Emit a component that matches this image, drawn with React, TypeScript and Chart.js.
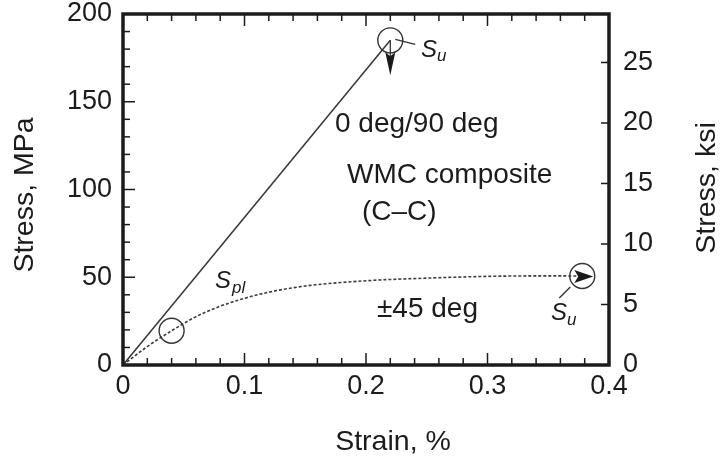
import React, { useEffect, useRef } from "react";
import { Chart, registerables } from "chart.js";

Chart.register(...registerables);

// ---- data ----
const strain090 = [0, 0.22];
const stress090 = [0, 185];
const strain45 = [0, 0.02, 0.04, 0.06, 0.08, 0.1, 0.12, 0.15, 0.2, 0.25, 0.3, 0.35, 0.378];
const stress45 = [0, 10.5, 19.5, 27.5, 33.5, 38, 41.5, 45, 48, 49.5, 50.5, 50.8, 50.7];
const markerStrain = [0.04, 0.22, 0.378];
const markerStress = [19.5, 185, 50.7];

// ---- ticks ----
const xTicks = [0, 0.1, 0.2, 0.3, 0.4];
const xMinorTicks = [0.02, 0.04, 0.06, 0.08, 0.12, 0.14, 0.16, 0.18, 0.22, 0.24, 0.26, 0.28, 0.32, 0.34, 0.36, 0.38];
const yTicks = [0, 50, 100, 150, 200];
const yMinorTicks = [10, 20, 30, 40, 60, 70, 80, 90, 110, 120, 130, 140, 160, 170, 180, 190];
const ksiTicks = [0, 5, 10, 15, 20, 25];
const MPA_PER_KSI = 6.895;

const INK = "#1d1a1b";
const FONT = "'Liberation Sans', Arial, Helvetica, sans-serif";

const zeroPad = (s: any) => {
  s.paddingTop = 0;
  s.paddingBottom = 0;
  s.paddingLeft = 0;
  s.paddingRight = 0;
};

const decor = {
  id: "decor",
  afterDatasetsDraw(chart: any) {
    const { ctx, chartArea: a, scales } = chart;
    const x = scales.x, y = scales.y, y2 = scales.y2;
    ctx.save();
    ctx.strokeStyle = INK;
    ctx.fillStyle = INK;
    ctx.lineWidth = 1.5;
    ctx.lineCap = "butt";
    const seg = (x1: number, y1: number, x2: number, y2_: number) => {
      ctx.beginPath();
      ctx.moveTo(x1, y1);
      ctx.lineTo(x2, y2_);
      ctx.stroke();
    };
    // x ticks (bottom + top), inward
    xTicks.forEach((v) => {
      const px = x.getPixelForValue(v);
      seg(px, a.bottom, px, a.bottom - 12);
      seg(px, a.top, px, a.top + 12);
    });
    xMinorTicks.forEach((v) => {
      const px = x.getPixelForValue(v);
      seg(px, a.bottom, px, a.bottom - 7);
      seg(px, a.top, px, a.top + 7);
    });
    yTicks.forEach((v) => {
      const py = y.getPixelForValue(v);
      seg(a.left, py, a.left + 12, py);
    });
    yMinorTicks.forEach((v) => {
      const py = y.getPixelForValue(v);
      seg(a.left, py, a.left + 7, py);
    });
    ksiTicks.forEach((v) => {
      const py = y2.getPixelForValue(v);
      seg(a.right, py, a.right - 8, py);
    });
    // frame
    ctx.lineWidth = 3.5;
    ctx.strokeRect(a.left, a.top, a.right - a.left, a.bottom - a.top);

    // annotations at markers
    const top = { x: x.getPixelForValue(markerStrain[1]), y: y.getPixelForValue(markerStress[1]) };
    const right = { x: x.getPixelForValue(markerStrain[2]), y: y.getPixelForValue(markerStress[2]) };
    ctx.lineWidth = 1.3;
    ctx.strokeStyle = "#333";
    ctx.fillStyle = "#1a1a1a";
    // down arrow at top marker
    seg(top.x, top.y, top.x, top.y + 16);
    ctx.beginPath();
    ctx.moveTo(top.x - 5, top.y + 12);
    ctx.lineTo(top.x, top.y + 16);
    ctx.lineTo(top.x + 5, top.y + 12);
    ctx.lineTo(top.x, top.y + 35);
    ctx.closePath();
    ctx.fill();
    // leader for top Su
    seg(top.x + 5, top.y - 1, top.x + 25, top.y + 4);
    // right arrow at right marker
    ctx.beginPath();
    ctx.moveTo(right.x + 11, right.y + 0.5);
    ctx.lineTo(right.x - 8, right.y - 6);
    ctx.lineTo(right.x - 4, right.y + 0.5);
    ctx.lineTo(right.x - 8, right.y + 7);
    ctx.closePath();
    ctx.fill();
    // leader for right Su
    seg(right.x - 12, right.y + 11, right.x - 23, right.y + 22);

    // texts
    ctx.fillStyle = INK;
    ctx.textBaseline = "alphabetic";
    ctx.textAlign = "left";
    ctx.font = `28px ${FONT}`;
    ctx.fillText("0 deg/90 deg", 335, 132);
    ctx.fillText("WMC composite", 347, 183);
    ctx.fillText("(C\u2013C)", 362, 220);
    ctx.fillText("\u00b145 deg", 377, 317);

    // S labels
    const sLabel = (sx: number, sy: number, sub: string, bx: number, by: number) => {
      ctx.font = `italic 24px ${FONT}`;
      ctx.fillText("S", sx, sy);
      ctx.font = `italic 17px ${FONT}`;
      ctx.fillText(sub, bx, by);
    };
    sLabel(421, 57, "u", 437, 61);
    sLabel(215, 288, "pl", 232, 293);
    sLabel(551, 320, "u", 567, 325);

    // axis titles
    ctx.font = `28.5px ${FONT}`;
    ctx.textAlign = "center";
    ctx.fillText("Strain, %", 393, 450);
    ctx.save();
    ctx.translate(33, 195);
    ctx.rotate(-Math.PI / 2);
    ctx.fillText("Stress, MPa", 0, 0);
    ctx.restore();
    ctx.save();
    ctx.translate(715, 188);
    ctx.rotate(-Math.PI / 2);
    ctx.fillText("Stress, ksi", 0, 0);
    ctx.restore();
    ctx.restore();
  },
};

export default function App() {
  const ref = useRef<HTMLCanvasElement | null>(null);
  useEffect(() => {
    if (!ref.current) return;
    const tickFont = { family: FONT, size: 27, lineHeight: 1 };
    const gridOff = { display: false, drawTicks: false, tickLength: 0 };
    const chart = new Chart(ref.current, {
      type: "scatter",
      data: {
        datasets: [
          {
            label: "0 deg/90 deg",
            data: strain090.map((v, i) => ({ x: v, y: stress090[i] })),
            showLine: true,
            borderColor: "#363636",
            borderWidth: 1.5,
            pointRadius: 0,
          },
          {
            label: "±45 deg",
            data: strain45.map((v, i) => ({ x: v, y: stress45[i] })),
            showLine: true,
            borderColor: "#3c3c3c",
            borderWidth: 1.6,
            borderDash: [3, 2],
            cubicInterpolationMode: "monotone",
            pointRadius: 0,
          },
          {
            label: "markers",
            data: markerStrain.map((v, i) => ({ x: v, y: markerStress[i] })),
            showLine: false,
            pointRadius: 12.5,
            pointBackgroundColor: "rgba(0,0,0,0)",
            pointBorderColor: "#333",
            pointBorderWidth: 1.4,
          },
        ],
      } as any,
      options: {
        animation: false,
        responsive: false,
        maintainAspectRatio: false,
        layout: { padding: { top: 14, left: 0, right: 0, bottom: 0 } },
        plugins: { legend: { display: false }, tooltip: { enabled: false }, title: { display: false } },
        scales: {
          x: {
            type: "linear",
            position: "bottom",
            min: 0,
            max: 0.4,
            grid: gridOff,
            border: { display: false },
            afterBuildTicks: (s: any) => {
              s.ticks = xTicks.map((v) => ({ value: v }));
            },
            ticks: { font: tickFont, color: INK, padding: 8, maxRotation: 0, callback: (v: any) => String(v) },
            afterFit: (s: any) => {
              s.height = 92;
              zeroPad(s);
            },
          },
          y: {
            type: "linear",
            position: "left",
            min: 0,
            max: 200,
            grid: gridOff,
            border: { display: false },
            afterBuildTicks: (s: any) => {
              s.ticks = yTicks.map((v) => ({ value: v }));
            },
            ticks: { font: tickFont, color: INK, padding: 11, callback: (v: any) => String(v) },
            afterFit: (s: any) => {
              s.width = 123;
              zeroPad(s);
            },
          },
          y2: {
            type: "linear",
            position: "right",
            min: 0,
            max: 200 / MPA_PER_KSI,
            grid: gridOff,
            border: { display: false },
            afterBuildTicks: (s: any) => {
              s.ticks = ksiTicks.map((v) => ({ value: v }));
            },
            ticks: { font: tickFont, color: INK, padding: 14, callback: (v: any) => String(v) },
            afterFit: (s: any) => {
              s.width = 111;
              zeroPad(s);
            },
          },
        },
      } as any,
      plugins: [decor],
    });
    return () => chart.destroy();
  }, []);
  return (
    <div style={{ position: "fixed", left: 0, top: 0, width: 720, height: 457, background: "#fff" }}>
      <canvas ref={ref} width={720} height={457} style={{ width: 720, height: 457, display: "block" }} />
    </div>
  );
}
